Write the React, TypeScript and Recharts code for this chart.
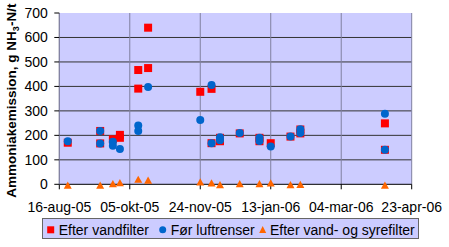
import React from 'react';
import { ScatterChart, Scatter, XAxis, YAxis, CartesianGrid, Legend } from 'recharts';

const START_DATE = '2005-08-16';
const xTickDays = [0, 50, 100, 150, 200, 250];
const xTickLabels = ['16-aug-05', '05-okt-05', '24-nov-05', '13-jan-06', '04-mar-06', '23-apr-06'];
const yTicks = [0, 100, 200, 300, 400, 500, 600, 700];
const yGridValues = [100, 200, 300, 400, 500, 600];

const seriesNames = ['Efter vandfilter', 'Før luftrenser', 'Efter vand- og syrefilter'];
const seriesColors = ['#ff0000', '#0066cc', '#ff6600'];

const vandfilterDates = [
  '2005-08-22', '2005-09-14', '2005-09-14', '2005-09-23', '2005-09-28', '2005-09-28',
  '2005-10-11', '2005-10-11', '2005-10-18', '2005-10-18', '2005-11-24', '2005-12-02',
  '2005-12-02', '2005-12-08', '2005-12-08', '2005-12-22', '2006-01-05', '2006-01-05',
  '2006-01-13', '2006-01-27', '2006-02-03', '2006-02-03', '2006-04-04', '2006-04-04',
];
const vandfilterValues = [
  170, 218, 167, 184, 202, 190,
  467, 391, 475, 640, 378, 390,
  168, 176, 190, 208, 190, 176,
  168, 195, 224, 208, 249, 141,
];

const luftrenserDates = [
  '2005-08-22', '2005-09-14', '2005-09-14', '2005-09-23', '2005-09-23', '2005-09-28',
  '2005-10-11', '2005-10-11', '2005-10-18', '2005-11-24', '2005-12-02', '2005-12-02',
  '2005-12-08', '2005-12-08', '2005-12-22', '2006-01-05', '2006-01-05', '2006-01-13',
  '2006-01-27', '2006-02-03', '2006-02-03', '2006-04-04', '2006-04-04',
];
const luftrenserValues = [
  176, 218, 167, 174, 158, 144,
  240, 218, 398, 263, 406, 168,
  192, 180, 210, 190, 177, 154,
  195, 225, 210, 288, 141,
];

const syrefilterDates = [
  '2005-08-22', '2005-09-14', '2005-09-23', '2005-09-28', '2005-10-11', '2005-10-18',
  '2005-11-24', '2005-12-02', '2005-12-08', '2005-12-22', '2006-01-05', '2006-01-13',
  '2006-01-27', '2006-02-03', '2006-04-04',
];
const syrefilterValues = [
  0, 0, 6, 10, 24, 20,
  13, 9, 2, 6, 6, 9,
  2, 3, 0,
];

const FONT = 'Arial, "Liberation Sans", sans-serif';

const dayOf = (d: string) => (Date.parse(d) - Date.parse(START_DATE)) / 86400000;
const toPoints = (dates: string[], values: number[]) =>
  dates.map((d, i) => ({ x: dayOf(d), y: values[i] }));

const vandfilterData = toPoints(vandfilterDates, vandfilterValues);
const luftrenserData = toPoints(luftrenserDates, luftrenserValues);
const syrefilterData = toPoints(syrefilterDates, syrefilterValues);

const SquareShape = (props: any) => {
  const { cx, cy } = props;
  if (cx == null || cy == null) return null;
  return <rect x={cx - 4} y={cy - 4} width={8} height={8} fill={seriesColors[0]} />;
};
const CircleShape = (props: any) => {
  const { cx, cy } = props;
  if (cx == null || cy == null) return null;
  return <circle cx={cx} cy={cy} r={4} fill={seriesColors[1]} />;
};
const TriangleShape = (props: any) => {
  const { cx, cy } = props;
  if (cx == null || cy == null) return null;
  return (
    <polygon
      points={`${cx},${cy - 2.8} ${cx + 4},${cy + 4.4} ${cx - 4},${cy + 4.4}`}
      fill={seriesColors[2]}
    />
  );
};

const YLabel = (props: any) => {
  const vb = props.viewBox || { x: 0, y: 13, width: 59, height: 171 };
  const x = 16;
  const y = vb.y + vb.height / 2 + 2;
  return (
    <text
      x={x}
      y={y}
      transform={`rotate(-90, ${x}, ${y})`}
      textAnchor="middle"
      fontFamily={FONT}
      fontWeight="bold"
      fontSize={13.5}
      fill="#000"
    >
      Ammoniakemission, g NH<tspan dy={3} fontSize={9}>3</tspan>
      <tspan dy={-3}>-N/t</tspan>
    </text>
  );
};

const LegendBox = () => {
  const w = 377;
  const h = 21;
  const my = 11.8;
  const tb = 16.7;
  return (
    <svg width={w} height={h} style={{ display: 'block' }}>
      <rect x={0.5} y={0.5} width={w - 1} height={h - 1} fill="#ccccff" stroke="#666" />
      <rect x={8.7 - 3.5} y={my - 3.5} width={7} height={7} fill={seriesColors[0]} />
      <text x={16.7} y={tb} fontFamily={FONT} fontSize={14} fill="#000">{seriesNames[0]}</text>
      <circle cx={120.7} cy={my} r={3.5} fill={seriesColors[1]} />
      <text x={128.7} y={tb} fontFamily={FONT} fontSize={14} fill="#000">{seriesNames[1]}</text>
      <polygon
        points={`${220.7},${my - 3.7} ${224.2},${my + 3.3} ${217.2},${my + 3.3}`}
        fill={seriesColors[2]}
      />
      <text x={228} y={tb} fontFamily={FONT} fontSize={14} fill="#000">{seriesNames[2]}</text>
    </svg>
  );
};

export default function App() {
  return (
    <div style={{ position: 'absolute', left: 0, top: 0, width: 449, height: 247, background: '#fff' }}>
      <ScatterChart
        width={449}
        height={247}
        margin={{ top: 13, right: 37.3, left: 0, bottom: 0 }}
      >
        <CartesianGrid
          fill="#ccccff"
          vertical={false}
          horizontal={true}
          horizontalValues={yGridValues}
          stroke="#333"
          strokeWidth={1}
        />
        <CartesianGrid
          horizontal={false}
          vertical={true}
          verticalValues={xTickDays}
          stroke="#8080a0"
          strokeWidth={1}
        />
        <XAxis
          type="number"
          dataKey="x"
          domain={[0, 250]}
          ticks={xTickDays}
          tickFormatter={(v: number) => xTickLabels[xTickDays.indexOf(v)] ?? ''}
          interval={0}
          height={62.7}
          tickSize={5}
          tickMargin={12.4}
          axisLine={{ stroke: '#000' }}
          tickLine={{ stroke: '#000' }}
          tick={{ fontFamily: FONT, fontSize: 14, fill: '#000' }}
        />
        <YAxis
          type="number"
          dataKey="y"
          domain={[0, 700]}
          ticks={yTicks}
          interval={0}
          width={59.3}
          tickSize={5}
          tickMargin={6.5}
          axisLine={{ stroke: '#8080a0' }}
          tickLine={{ stroke: '#000' }}
          tick={{ fontFamily: FONT, fontSize: 14, fill: '#000' }}
          label={{ content: YLabel }}
        />
        <Legend
          layout="horizontal"
          verticalAlign="middle"
          align="center"
          content={LegendBox}
          wrapperStyle={{ position: 'absolute', left: 42, top: 218, width: 377, height: 21 }}
        />
        <Scatter name={seriesNames[0]} data={vandfilterData} shape={SquareShape} isAnimationActive={false} />
        <Scatter name={seriesNames[1]} data={luftrenserData} shape={CircleShape} isAnimationActive={false} />
        <Scatter name={seriesNames[2]} data={syrefilterData} shape={TriangleShape} isAnimationActive={false} />
      </ScatterChart>
    </div>
  );
}
